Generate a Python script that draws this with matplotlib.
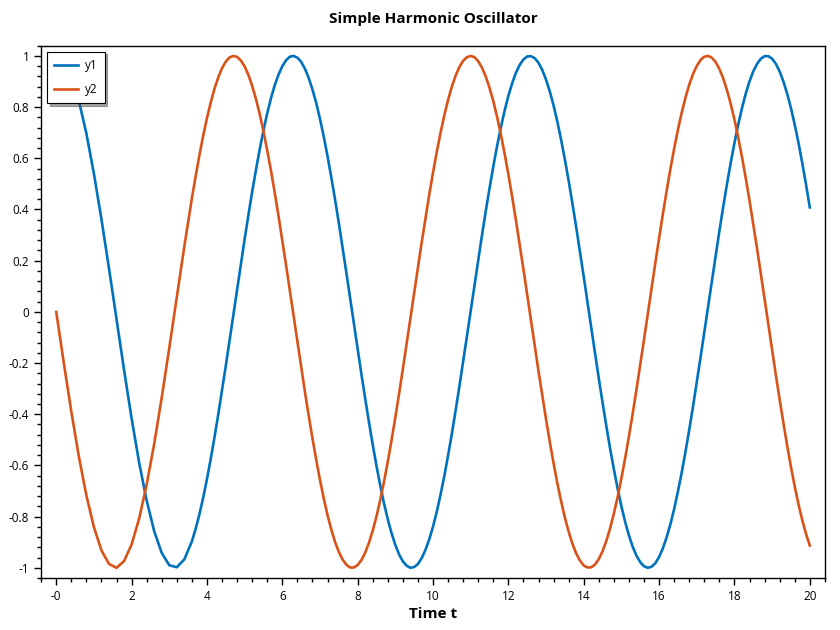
import matplotlib
matplotlib.use("Agg")
import matplotlib.pyplot as plt
from matplotlib.ticker import AutoMinorLocator

plt.rcParams['font.family'] = ['Open Sans', 'DejaVu Sans']
plt.rcParams['axes.unicode_minus'] = False

# solver output: coarse steps at the start, then step 0.1
t_coarse = [0.0, 0.2, 0.4, 0.6, 0.8, 1.0, 1.2, 1.4, 1.6, 1.8,
            2.0, 2.2, 2.4, 2.6, 2.8, 3.0, 3.2, 3.4, 3.6]
t_fine = [round(3.7 + 0.1 * i, 1) for i in range(164)]
t = t_coarse + t_fine

y1 = [1.000, 0.980, 0.921, 0.825, 0.697, 0.540, 0.362, 0.170, -0.029, -0.227,
      -0.416, -0.589, -0.737, -0.857, -0.942, -0.990, -0.998, -0.967, -0.897,
      -0.848, -0.791, -0.726,
      -0.654, -0.575, -0.490, -0.401, -0.307, -0.211, -0.112, -0.012, 0.087, 0.187,
      0.284, 0.378, 0.469, 0.554, 0.635, 0.709, 0.776, 0.835, 0.886, 0.927,
      0.960, 0.983, 0.997, 1.000, 0.993, 0.977, 0.950, 0.914, 0.869, 0.816,
      0.754, 0.685, 0.608, 0.526, 0.439, 0.347, 0.251, 0.153, 0.054, -0.046,
      -0.145, -0.244, -0.339, -0.431, -0.519, -0.602, -0.679, -0.749, -0.811, -0.865,
      -0.911, -0.948, -0.975, -0.992, -1.000, -0.997, -0.985, -0.962, -0.930, -0.889,
      -0.839, -0.781, -0.714, -0.641, -0.561, -0.476, -0.385, -0.291, -0.194, -0.095,
      0.004, 0.104, 0.203, 0.300, 0.394, 0.483, 0.568, 0.648, 0.720, 0.786,
      0.844, 0.893, 0.934, 0.965, 0.986, 0.998, 0.999, 0.991, 0.973, 0.945,
      0.907, 0.861, 0.806, 0.743, 0.672, 0.595, 0.512, 0.423, 0.331, 0.235,
      0.137, 0.037, -0.063, -0.162, -0.260, -0.355, -0.446, -0.534, -0.615, -0.691,
      -0.760, -0.821, -0.874, -0.918, -0.953, -0.978, -0.994, -1.000, -0.996, -0.982,
      -0.958, -0.924, -0.881, -0.830, -0.770, -0.702, -0.628, -0.547, -0.461, -0.370,
      -0.275, -0.178, -0.079, 0.021, 0.121, 0.219, 0.316, 0.409, 0.498, 0.582,
      0.660, 0.732, 0.796, 0.853, 0.901, 0.940, 0.969, 0.989, 0.999, 0.999,
      0.989, 0.969, 0.939, 0.900, 0.852, 0.796, 0.731, 0.660, 0.581, 0.497,
      0.408]

y2 = [0.000, -0.199, -0.389, -0.565, -0.717, -0.841, -0.932, -0.985, -1.000, -0.974,
      -0.909, -0.808, -0.675, -0.516, -0.335, -0.141, 0.058, 0.256, 0.443,
      0.530, 0.612, 0.688,
      0.757, 0.818, 0.872, 0.916, 0.952, 0.978, 0.994, 1.000, 0.996, 0.982,
      0.959, 0.926, 0.883, 0.832, 0.773, 0.706, 0.631, 0.551, 0.465, 0.374,
      0.279, 0.182, 0.083, -0.017, -0.117, -0.215, -0.312, -0.405, -0.494, -0.578,
      -0.657, -0.729, -0.794, -0.850, -0.899, -0.938, -0.968, -0.988, -0.999, -0.999,
      -0.989, -0.970, -0.941, -0.902, -0.855, -0.799, -0.734, -0.663, -0.585, -0.501,
      -0.412, -0.319, -0.223, -0.124, -0.025, 0.075, 0.174, 0.272, 0.366, 0.458,
      0.544, 0.625, 0.700, 0.768, 0.828, 0.880, 0.923, 0.957, 0.981, 0.995,
      1.000, 0.995, 0.979, 0.954, 0.919, 0.875, 0.823, 0.762, 0.694, 0.618,
      0.537, 0.450, 0.358, 0.263, 0.166, 0.066, -0.034, -0.133, -0.232, -0.327,
      -0.420, -0.509, -0.592, -0.670, -0.740, -0.804, -0.859, -0.906, -0.944, -0.972,
      -0.991, -0.999, -0.998, -0.987, -0.966, -0.935, -0.895, -0.846, -0.788, -0.723,
      -0.650, -0.571, -0.486, -0.397, -0.303, -0.206, -0.108, -0.008, 0.092, 0.191,
      0.288, 0.382, 0.472, 0.558, 0.638, 0.712, 0.778, 0.837, 0.888, 0.929,
      0.961, 0.984, 0.997, 1.000, 0.993, 0.976, 0.949, 0.913, 0.867, 0.813,
      0.751, 0.681, 0.605, 0.522, 0.435, 0.342, 0.247, 0.149, 0.050, -0.050,
      -0.150, -0.248, -0.343, -0.435, -0.523, -0.606, -0.682, -0.752, -0.814, -0.868,
      -0.913]

xticks = [0, 2, 4, 6, 8, 10, 12, 14, 16, 18, 20]
xtick_labels = ['-0', '2', '4', '6', '8', '10', '12', '14', '16', '18', '20']
yticks = [-1, -0.8, -0.6, -0.4, -0.2, 0, 0.2, 0.4, 0.6, 0.8, 1]
ytick_labels = ['-1', '-0.8', '-0.6', '-0.4', '-0.2', '0', '0.2', '0.4', '0.6', '0.8', '1']

fig = plt.figure(figsize=(8.4, 6.3), dpi=100)
ax = fig.add_axes([0.049, 0.0825, 0.933, 0.845])

ax.plot(t, y1, color='#0072BD', lw=1.9, label='y1')
ax.plot(t, y2, color='#D95319', lw=1.9, label='y2')

ax.set_xlim(-0.4, 20.4)
ax.set_ylim(-1.04, 1.04)
ax.set_xticks(xticks)
ax.set_xticklabels(xtick_labels)
ax.set_yticks(yticks)
ax.set_yticklabels(ytick_labels)
ax.xaxis.set_minor_locator(AutoMinorLocator(5))
ax.yaxis.set_minor_locator(AutoMinorLocator(5))
ax.tick_params(which='major', length=5, width=1, labelsize=8.5, direction='out')
ax.tick_params(which='minor', length=3, width=1, direction='out')
for s in ax.spines.values():
    s.set_linewidth(1)

ax.set_title('Simple Harmonic Oscillator', fontsize=11, fontweight='bold', pad=16)
ax.set_xlabel('Time t', fontsize=11, fontweight='bold', labelpad=3)

leg = ax.legend(loc='upper left', fontsize=8.5, fancybox=False, shadow=True,
                edgecolor='black', framealpha=1, handlelength=2.0,
                handletextpad=0.6, labelspacing=0.95, borderpad=0.6,
                borderaxespad=0.5)
leg.get_frame().set_linewidth(0.8)

fig.savefig('out.png', dpi=100)
